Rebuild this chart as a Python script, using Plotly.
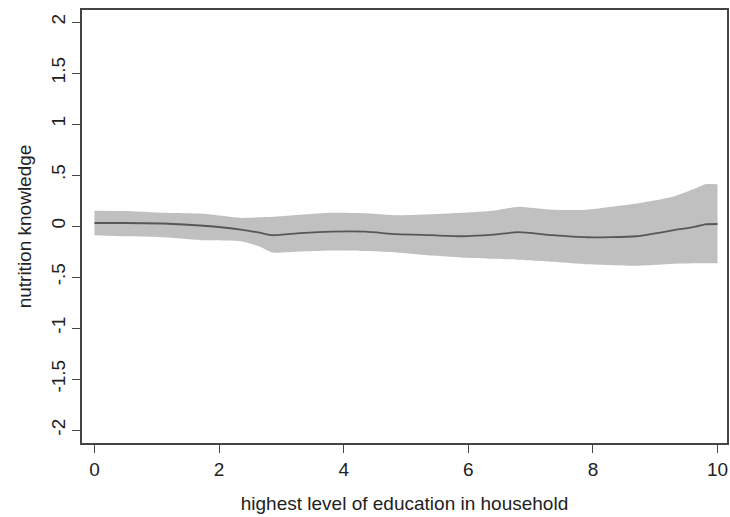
import plotly.graph_objects as go

# Data
education = [0, 0.5, 1.1, 1.75, 2.35, 2.65, 2.86, 3.3, 3.8, 4.35, 4.85, 5.4, 5.9,
             6.4, 6.8, 7.35, 7.9, 8.7, 9.3, 9.65, 9.8, 10]
fit = [0.03, 0.03, 0.025, 0.003, -0.035, -0.065, -0.09, -0.07, -0.055, -0.055, -0.08,
       -0.09, -0.10, -0.085, -0.06, -0.09, -0.11, -0.10, -0.04, -0.005, 0.017, 0.02]
ci_upper = [0.15, 0.147, 0.13, 0.12, 0.08, 0.085, 0.09, 0.11, 0.13, 0.125, 0.105,
            0.115, 0.13, 0.15, 0.19, 0.16, 0.16, 0.22, 0.29, 0.37, 0.41, 0.41]
ci_lower = [-0.09, -0.10, -0.11, -0.14, -0.15, -0.20, -0.26, -0.25, -0.24, -0.245,
            -0.26, -0.29, -0.31, -0.32, -0.33, -0.35, -0.375, -0.39, -0.37, -0.365,
            -0.365, -0.365]

x_ticks = [0, 2, 4, 6, 8, 10]
y_ticks = [-2, -1.5, -1, -0.5, 0, 0.5, 1, 1.5, 2]
y_tick_labels = ["-2", "-1.5", "-1", "-.5", "0", ".5", "1", "1.5", "2"]

FONT = "Liberation Sans, Arial, sans-serif"

fig = go.Figure()
fig.add_trace(go.Scatter(x=education, y=ci_lower, mode="lines",
                         line=dict(width=0, color="#c0c0c0", shape="spline", smoothing=0.5),
                         showlegend=False, hoverinfo="skip"))
fig.add_trace(go.Scatter(x=education, y=ci_upper, mode="lines",
                         line=dict(width=0, color="#c0c0c0", shape="spline", smoothing=0.5),
                         fill="tonexty", fillcolor="#c0c0c0",
                         showlegend=False, hoverinfo="skip"))
fig.add_trace(go.Scatter(x=education, y=fit, mode="lines",
                         line=dict(width=1.8, color="#575757", shape="spline", smoothing=0.6),
                         showlegend=False))

fig.update_layout(
    width=730, height=517,
    margin=dict(l=82, r=1, t=10, b=74),
    paper_bgcolor="white", plot_bgcolor="white",
    font=dict(family=FONT, size=19, color="#222222"),
    showlegend=False,
)
fig.update_xaxes(
    range=[-0.2, 10.152], tickvals=x_ticks, ticks="outside", ticklen=8,
    tickcolor="#444444", tickwidth=1.3,
    showline=True, linecolor="#444444", linewidth=1.5, mirror=True,
    showgrid=False, zeroline=False,
    tickfont=dict(size=19),
    title=dict(text="highest level of education in household", font=dict(size=19), standoff=18),
)
fig.update_yaxes(
    range=[-2.127, 2.118], tickvals=y_ticks, ticktext=y_tick_labels,
    ticks="outside", ticklen=8, tickcolor="#444444", tickwidth=1.3,
    tickangle=-90,
    showline=True, linecolor="#444444", linewidth=1.5, mirror=True,
    showgrid=False, zeroline=False,
    tickfont=dict(size=19),
    title=dict(text="nutrition knowledge", font=dict(size=19), standoff=11),
)

fig.write_html("out.html",
               config={"displayModeBar": False},
               post_script="document.body.style.margin='0';document.body.style.overflow='hidden';")
